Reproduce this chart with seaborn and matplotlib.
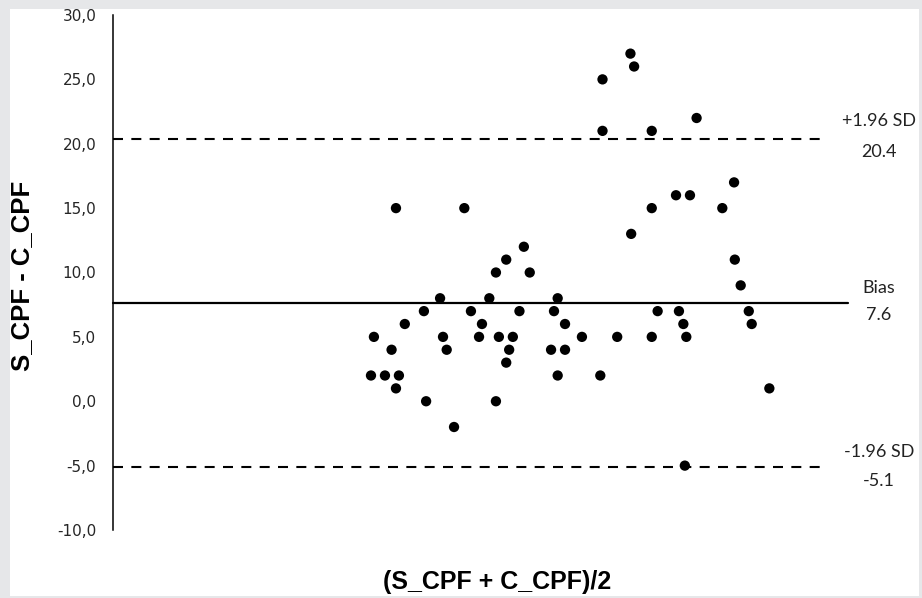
import matplotlib
matplotlib.use("Agg")
import matplotlib.pyplot as plt
from matplotlib.patches import Rectangle
import seaborn as sns
import pandas as pd

mean_vals = [38.5, 47.8, 73.3, 82.9, 70.5, 55.9, 53.5, 84.6, 52.1, 56.7,
             85.4, 44.5, 51.2, 60.5, 42.3, 48.7, 55.3, 60.0, 74.1, 77.0,
             86.5, 39.7, 50.2, 61.5, 77.6, 86.9, 35.5, 44.9, 49.8, 52.5,
             54.4, 63.8, 68.6, 73.3, 78.0, 37.9, 45.4, 53.9, 59.6, 61.5,
             53.5, 35.1, 37.0, 38.9, 60.5, 66.3, 38.5, 89.3, 42.6, 52.1,
             46.4, 70.4, 70.9, 66.6, 79.4, 66.6, 73.3, 84.5, 76.6, 78.5,
             77.8]
diff_vals = [15, 15, 15, 15, 13, 12, 11, 11, 10, 10,
             9, 8, 8, 8, 7, 7, 7, 7, 7, 7,
             7, 6, 6, 6, 6, 6, 5, 5, 5, 5,
             5, 5, 5, 5, 5, 4, 4, 4, 4, 4,
             3, 2, 2, 2, 2, 2, 1, 1, 0, 0,
             -2, 27, 26, 25, 22, 21, 21, 17, 16, 16,
             -5]

bias = 7.6
upper_loa = 20.4
lower_loa = -5.1
y_ticks = [-10, -5, 0, 5, 10, 15, 20, 25, 30]
y_tick_labels = ["-10,0", "-5,0", "0,0", "5,0", "10,0", "15,0", "20,0", "25,0", "30,0"]

df = pd.DataFrame({"mean": mean_vals, "diff": diff_vals})

sns.set_theme(style="white")
plt.rcParams["font.family"] = ["DejaVu Sans"]

W, H = 922, 598
fig = plt.figure(figsize=(W / 100, H / 100), dpi=100)
fig.patch.set_facecolor("#e6e7e9")
fig.patches.append(Rectangle((10 / W, 2 / H), 909 / W, 587 / H,
                             transform=fig.transFigure, facecolor="white",
                             edgecolor="none", zorder=-10))

ax = fig.add_axes([113 / W, 1 - 530 / H, 735 / W, 515 / H])
ax.set_facecolor("none")
ax.set_zorder(1)

sns.scatterplot(data=df, x="mean", y="diff", ax=ax, color="black",
                s=55, edgecolor="none", linewidth=0, zorder=3, legend=False)

ax.axhline(bias, color="black", lw=1.6, xmin=0, xmax=1.0, zorder=2, clip_on=False)
dash_frac = (825 - 113) / 735
for v in (upper_loa, lower_loa):
    ax.axhline(v, color="black", lw=1.5, dashes=(4.8, 4.0),
               xmin=0, xmax=dash_frac, zorder=2)

ax.set_xlim(0, 100)
ax.set_ylim(-10, 30)
ax.set_yticks(y_ticks)
ax.set_yticklabels(y_tick_labels)
ax.set_xticks([])
ax.tick_params(axis="y", length=0, pad=12, labelsize=11, labelcolor="#262626")

for s in ("top", "right", "bottom"):
    ax.spines[s].set_visible(False)
ax.spines["left"].set_color("black")
ax.spines["left"].set_linewidth(1.1)

ax.set_xlabel("")
ax.set_ylabel("")
fig.text(22 / W, 1 - 276 / H, "S_CPF - C_CPF", rotation=90, ha="center", va="center",
         fontsize=18.5, fontweight="bold", color="black",
         family=["Liberation Sans", "DejaVu Sans"])
fig.text(497 / W, 1 - 582 / H, "(S_CPF + C_CPF)/2", ha="center", va="center",
         fontsize=18, fontweight="bold", color="black",
         family=["Liberation Sans", "DejaVu Sans"])

xt = (879 - 113) / 735
ann = [("+1.96 SD", upper_loa, 13), (f"{upper_loa:.1f}", upper_loa, -10),
       ("Bias", bias, 11), (f"{bias:.1f}", bias, -8),
       ("-1.96 SD", lower_loa, 11), (f"{lower_loa:.1f}", lower_loa, -10)]
for txt, yv, off in ann:
    ax.annotate(txt, xy=(xt, yv), xycoords=("axes fraction", "data"),
                xytext=(0, off), textcoords="offset points",
                ha="center", va="center", fontsize=13, color="#222222",
                family=["Lato", "DejaVu Sans"], annotation_clip=False)

fig.savefig("out.png", dpi=100, facecolor=fig.get_facecolor())
